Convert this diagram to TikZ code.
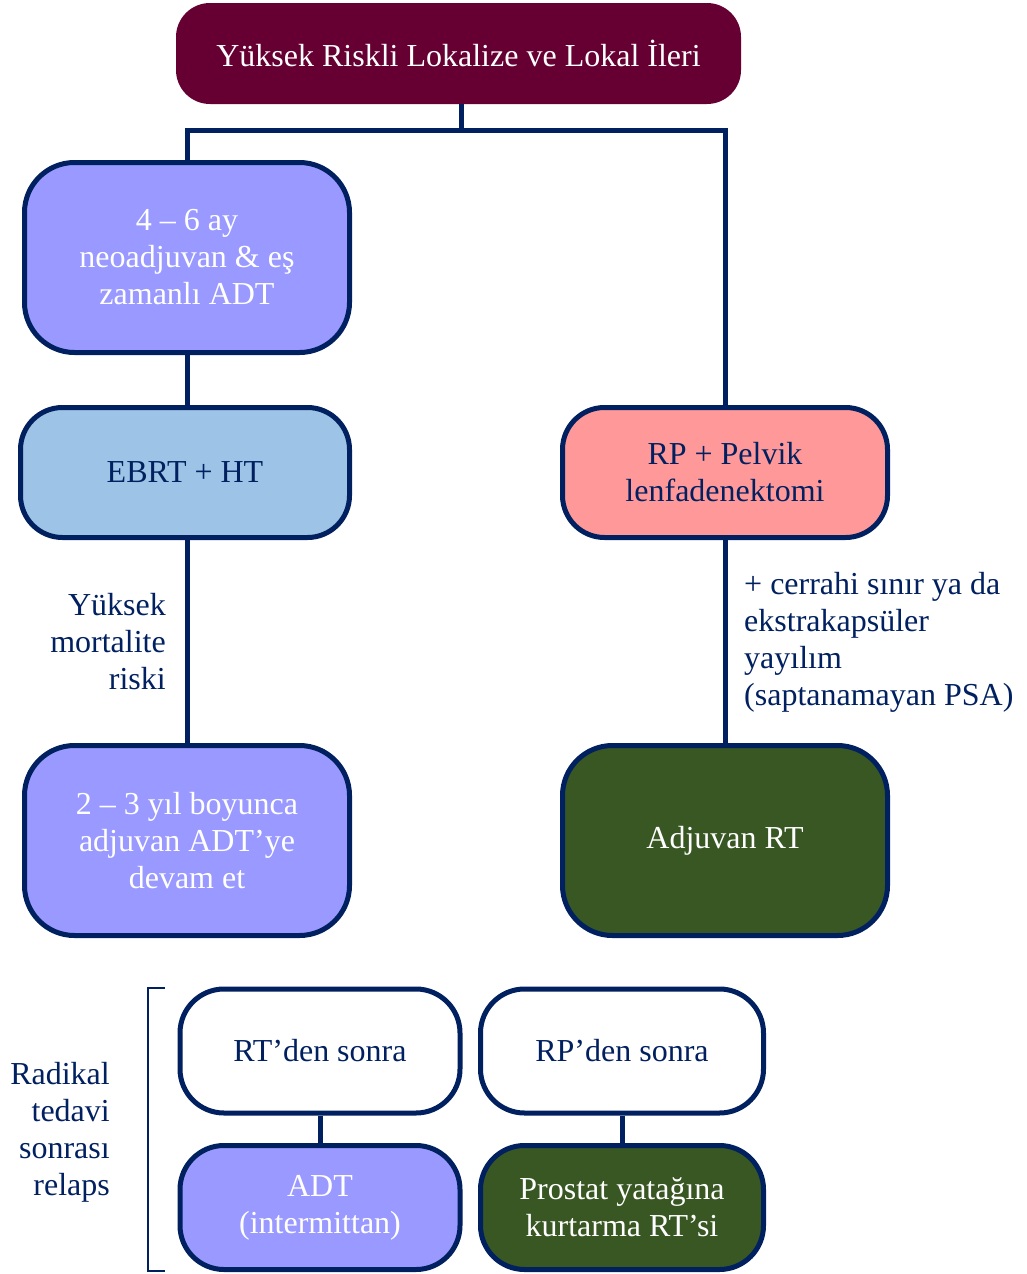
\documentclass[tikz,border=0pt]{standalone}
\usepackage{fontspec}
\setmainfont{Liberation Serif}
\definecolor{navy}{HTML}{002060}
\definecolor{maroon}{HTML}{660033}
\definecolor{lilac}{HTML}{9999FF}
\definecolor{skyb}{HTML}{9DC3E6}
\definecolor{pinkr}{HTML}{FF9999}
\definecolor{dgreen}{HTML}{385723}
\begin{document}
\begin{tikzpicture}[x=1pt,y=-1pt,
  every node/.style={font=\fontsize{32}{37}\selectfont, align=center, inner sep=0pt},
  box/.style={draw=navy, line width=5pt, rounded corners=50pt, minimum width=325pt, minimum height=190pt},
  conn/.style={draw=navy, line width=5pt, line join=miter},
  lbl/.style={text=navy}]
\useasboundingbox (0,0) rectangle (1026,1274);
\fill[white] (0,0) rectangle (1026,1274);
% nodes
\node[fill=maroon, text=white, rounded corners=34pt, minimum width=565pt, minimum height=101pt] (top) at (458.5,53.5) {Yüksek Riskli Lokalize ve Lokal İleri};
\node[box, fill=lilac, text=white] (neo) at (187,257.5) {4 – 6 ay\\neoadjuvan \& eş\\zamanlı ADT};
\node[box, fill=skyb, text=navy, minimum width=329pt, minimum height=130pt, rounded corners=42pt] (ebrt) at (185,472.5) {EBRT + HT};
\node[box, fill=lilac, text=white] (adt23) at (187,840.5) {2 – 3 yıl boyunca\\adjuvan ADT’ye\\devam et};
\node[box, fill=pinkr, text=navy, minimum height=130pt, rounded corners=42pt] (rp) at (725,472.5) {RP + Pelvik\\lenfadenektomi};
\node[box, fill=dgreen, text=white] (adjrt) at (725,840.5) {Adjuvan RT};
\node[box, fill=white, text=navy, minimum width=280pt, minimum height=124pt, rounded corners=44pt] (rtsonra) at (320,1051) {RT’den sonra};
\node[box, fill=white, text=navy, minimum width=283pt, minimum height=124pt, rounded corners=44pt] (rpsonra) at (622,1051) {RP’den sonra};
\node[box, fill=lilac, text=white, minimum width=280pt, minimum height=124pt, rounded corners=44pt] (adtint) at (320,1207.5) {ADT\\(intermittan)};
\node[box, fill=dgreen, text=white, minimum width=283pt, minimum height=124pt, rounded corners=44pt] (prostat) at (622,1207.5) {Prostat yatağına\\kurtarma RT’si};
% labels
\node[lbl, align=right, anchor=east] (mort) at (166,642) {Yüksek\\mortalite\\riski};
\node[lbl, align=left, anchor=west] (cerr) at (744,642) {+ cerrahi sınır ya da\\ekstrakapsüler\\yayılım\\(saptanamayan PSA)};
\node[lbl, align=right, anchor=east] (relaps) at (110,1132) {Radikal\\tedavi\\sonrası\\relaps};
% connectors
\coordinate (j) at (461,130);
\draw[conn] (top.south -| j) -- (j);
\draw[conn] (neo.north) |- (rp.north |- j) -- (rp.north);
\draw[conn] (neo.south) -- (neo.south |- ebrt.north);
\draw[conn] (ebrt.south -| neo.south) -- (adt23.north);
\draw[conn] (rp.south) -- (adjrt.north);
\draw[conn] (rtsonra.south) -- (adtint.north);
\draw[conn] (rpsonra.south) -- (prostat.north);
% bracket
\coordinate (bt) at (165,988);
\coordinate (bb) at (165,1271);
\draw[navy, line width=2pt] (bt) -- ++(-17,0) |- (bb);
\end{tikzpicture}
\end{document}
